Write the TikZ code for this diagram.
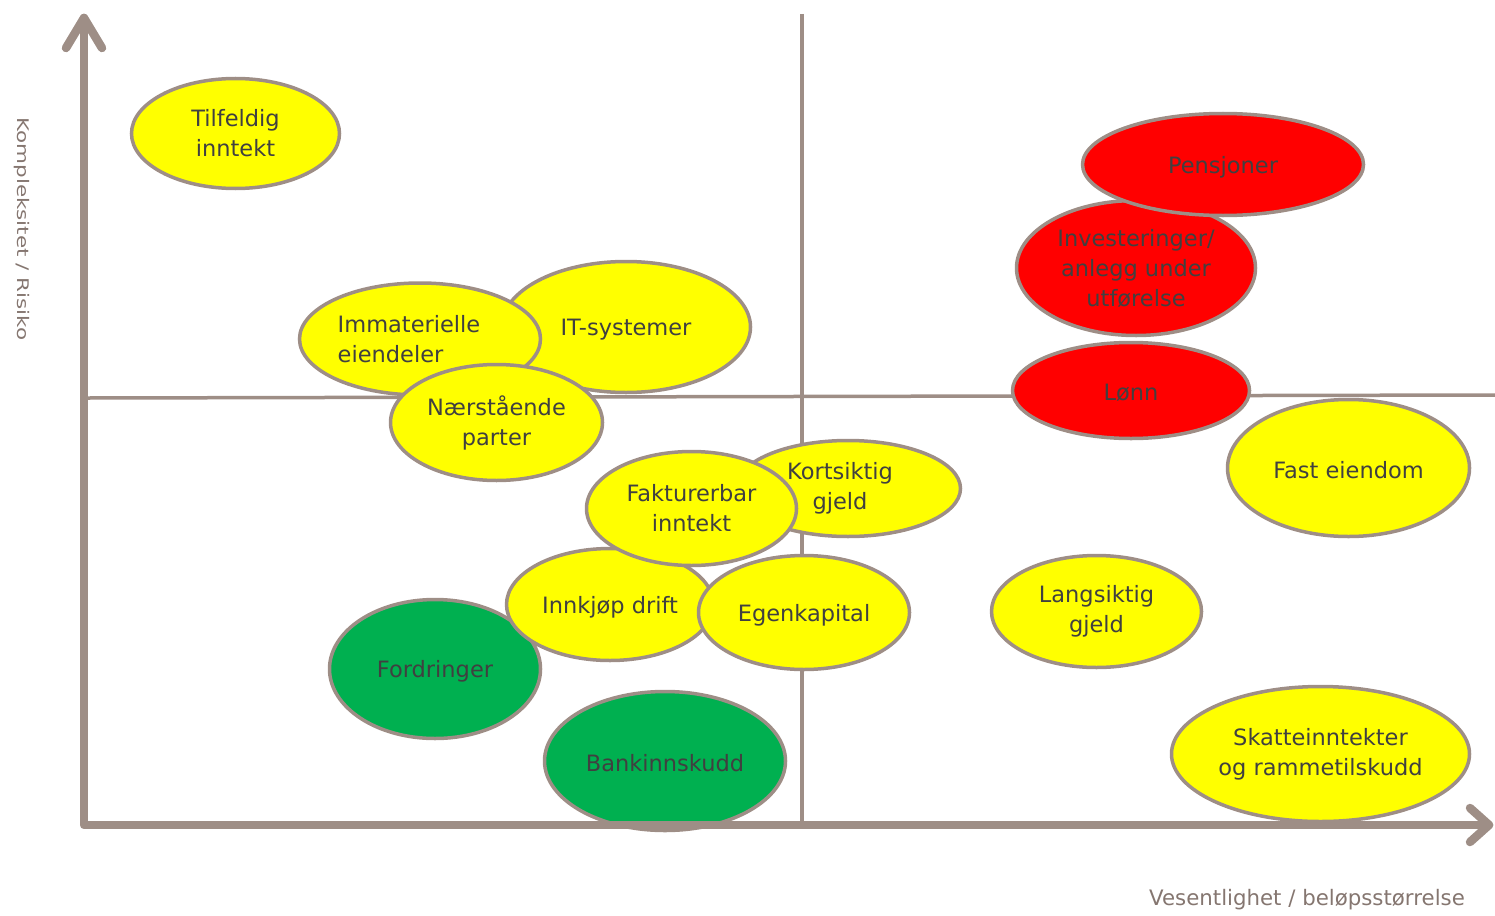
\documentclass[tikz,border=0pt]{standalone}
\usepackage{fontspec}
\usepackage{graphicx}
\setmainfont{DejaVu Sans}
\usetikzlibrary{shapes.geometric}
\definecolor{edge}{HTML}{9E8E86}
\definecolor{txt}{HTML}{404040}
\definecolor{lbl}{HTML}{857670}
\definecolor{yel}{HTML}{FFFF00}
\definecolor{rd}{HTML}{FF0000}
\definecolor{grn}{HTML}{00B050}
\begin{document}
\begin{tikzpicture}[x=1pt,y=-1pt,
  bub/.style={ellipse, draw=edge, line width=3.5pt, inner sep=0pt, text=txt, align=center,
              font=\fontsize{22.5}{30}\selectfont, execute at begin node={\rule{0pt}{22pt}}},
  yb/.style={bub, fill=yel},
  rb/.style={bub, fill=rd},
  gb/.style={bub, fill=grn},
  quad/.style={draw=edge, line width=3.5pt},
  axis/.style={draw=edge, line width=8.5pt, line cap=round, line join=round},
  axlabel/.style={text=lbl, inner sep=0pt}]
\useasboundingbox (0,0) rectangle (1495,915);

% quadrant lines
\coordinate (qT) at (802,14);
\coordinate (qB) at (802,825);
\coordinate (hL) at (88,398);
\coordinate (hR) at (1495,395);
\draw[quad] (qT) -- (qB);
\draw[quad] (hL) -- (hR);

% bubbles
\node[yb, minimum width=208, minimum height=110] (tilf) at (235.5,133.5) {Tilfeldig\\inntekt};
\node[yb, minimum width=249, minimum height=131] (it) at (626,327) {IT-systemer};
\node[yb, minimum width=241, minimum height=112, align=left] (imm) at (420,339)
  {\hspace*{-22pt}Immaterielle\\\hspace*{-22pt}eiendeler};
\node[yb, minimum width=212, minimum height=116] (naer) at (496.5,422.5) {Nærstående\\parter};
\node[rb, minimum width=239, minimum height=135] (inv) at (1136,268) {Investeringer/\\anlegg under\\utførelse};
\node[rb, minimum width=281, minimum height=102] (pens) at (1223,164.5) {Pensjoner};
\node[rb, minimum width=237, minimum height=96] (lonn) at (1131,390.5) {Lønn};
\node[yb, minimum width=242, minimum height=137] (fast) at (1348.5,468) {Fast eiendom};
\node[yb, minimum width=225, minimum height=96] (kort) at (848,488.5)
  {\hspace*{-16pt}Kortsiktig\\\hspace*{-16pt}gjeld};
\node[gb, minimum width=211, minimum height=139] (ford) at (435,669) {Fordringer};
\node[yb, minimum width=207, minimum height=112] (innk) at (610,604.5) {Innkjøp drift};
\node[yb, minimum width=210, minimum height=114] (fakt) at (691.5,508.5) {Fakturerbar\\inntekt};
\node[yb, minimum width=211, minimum height=114] (egen) at (804,612.5) {Egenkapital};
\node[yb, minimum width=210, minimum height=112] (lang) at (1096.5,611.5) {Langsiktig\\gjeld};
\node[gb, minimum width=241, minimum height=139] (bank) at (665,761) {Bankinnskudd};
\node[yb, minimum width=298, minimum height=135] (skatt) at (1320.5,754) {Skatteinntekter\\og rammetilskudd};

% axes
\coordinate (O) at (84,825);
\coordinate (yT) at (84,18);
\coordinate (xR) at (1489,825);
\coordinate (ya1) at (66,48);
\coordinate (ya2) at (102,48);
\coordinate (xa1) at (1470,808);
\coordinate (xa2) at (1470,842);
\draw[axis] (yT) -- (O) -- (xR);
\draw[axis] (ya1) -- (yT) -- (ya2);
\draw[axis] (xa1) -- (xR) -- (xa2);

% axis labels
\node[axlabel, font=\fontsize{21.3}{25}\selectfont] (xlab) at (1307,900) {Vesentlighet / beløpsstørrelse};
\node[axlabel, rotate=-90, font=\fontsize{16}{18}\selectfont] (ylab) at (22,229)
  {\scalebox{1.34}[1]{Kompleksitet / Risiko}};
\end{tikzpicture}
\end{document}
